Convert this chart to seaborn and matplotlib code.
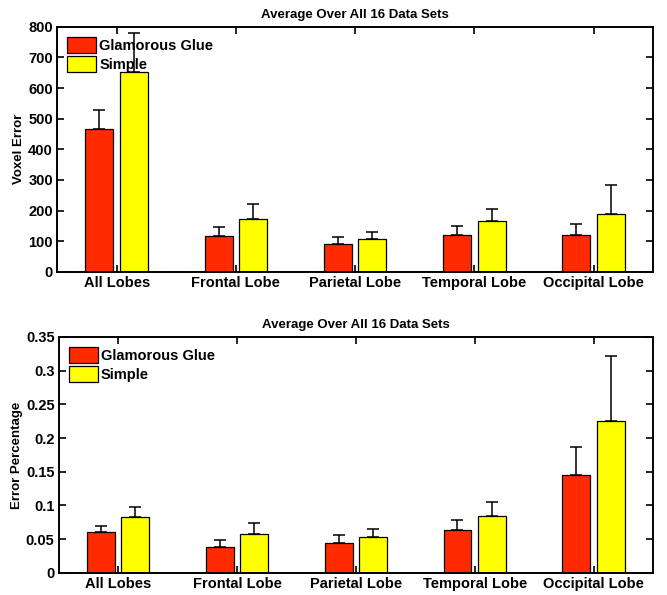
import numpy as np
import pandas as pd
import matplotlib
matplotlib.use("Agg")
import matplotlib.pyplot as plt
import seaborn as sns

# ---- data ----
lobes = ["All Lobes", "Frontal Lobe", "Parietal Lobe", "Temporal Lobe", "Occipital Lobe"]
methods = ["Glamorous Glue", "Simple"]

voxel_glue = [465, 117, 90, 122, 120]
voxel_simple = [652, 172, 107, 166, 190]
voxel_glue_err = [63, 30, 25, 28, 37]
voxel_simple_err = [128, 50, 23, 39, 93]

pct_glue = [0.060, 0.039, 0.044, 0.064, 0.145]
pct_simple = [0.083, 0.058, 0.053, 0.085, 0.225]
pct_glue_err = [0.009, 0.010, 0.013, 0.015, 0.041]
pct_simple_err = [0.015, 0.016, 0.012, 0.020, 0.097]

colors = ["#FF2A00", "#FFFF00"]

sns.set_style("white")
plt.rcParams["font.family"] = ["Liberation Sans", "DejaVu Sans"]
plt.rcParams["font.weight"] = "bold"
plt.rcParams["text.color"] = "black"
plt.rcParams["axes.labelcolor"] = "black"
plt.rcParams["xtick.color"] = "black"
plt.rcParams["ytick.color"] = "black"


def panel(ax, glue, simple, glue_err, simple_err, ylabel, yticks, ylim, ticklabels):
    df = pd.DataFrame({
        "lobe": lobes * 2,
        "method": [methods[0]] * 5 + [methods[1]] * 5,
        "value": glue + simple,
    })
    sns.barplot(data=df, x="lobe", y="value", hue="method", order=lobes,
                hue_order=methods, palette=colors, saturation=1, width=0.58, gap=0.19,
                edgecolor="black", linewidth=0.9, errorbar=None, ax=ax)
    # upward-only error bars on top of each bar
    errs = glue_err + simple_err
    vals = glue + simple
    for patch, v, e in zip(ax.patches[:10], vals, errs):
        cx = patch.get_x() + patch.get_width() / 2
        ax.errorbar(cx, v, yerr=[[0], [e]], fmt="none", ecolor="black",
                    elinewidth=1.1, capsize=4, capthick=1.1, zorder=3)
    ax.set_xlim(-0.5, 4.5)
    ax.set_ylim(*ylim)
    ax.set_yticks(yticks)
    ax.set_yticklabels(ticklabels, fontsize=10.5, fontweight="bold")
    ax.set_xticks(range(5))
    ax.set_xticklabels(lobes, fontsize=10.5, fontweight="bold")
    ax.set_xlabel("")
    ax.set_ylabel(ylabel, fontsize=9.5, fontweight="bold", labelpad=2)
    ax.set_title("Average Over All 16 Data Sets", fontsize=9.5, fontweight="bold", pad=6)
    ax.tick_params(direction="in", length=5, width=1.2, top=True, right=True,
                   bottom=True, left=True, pad=3)
    for s in ax.spines.values():
        s.set_visible(True)
        s.set_color("black")
        s.set_linewidth(1.4)
    leg = ax.legend(loc="upper left", frameon=False, fontsize=10.5,
                    handlelength=2.0, handleheight=1.3, handletextpad=0.2,
                    borderaxespad=0.3, labelspacing=0.2)
    for t in leg.get_texts():
        t.set_fontweight("bold")


fig = plt.figure(figsize=(6.67, 5.95), dpi=100)
ax1 = fig.add_axes([0.0855, 0.543, 0.894, 0.412])
ax2 = fig.add_axes([0.088, 0.037, 0.891, 0.397])

panel(ax1, voxel_glue, voxel_simple, voxel_glue_err, voxel_simple_err,
      "Voxel Error", np.arange(0, 801, 100), (0, 800),
      [str(v) for v in range(0, 801, 100)])
panel(ax2, pct_glue, pct_simple, pct_glue_err, pct_simple_err,
      "Error Percentage", np.arange(0, 0.351, 0.05), (0, 0.35),
      ["0", "0.05", "0.1", "0.15", "0.2", "0.25", "0.3", "0.35"])

fig.savefig("out.png", dpi=100)
